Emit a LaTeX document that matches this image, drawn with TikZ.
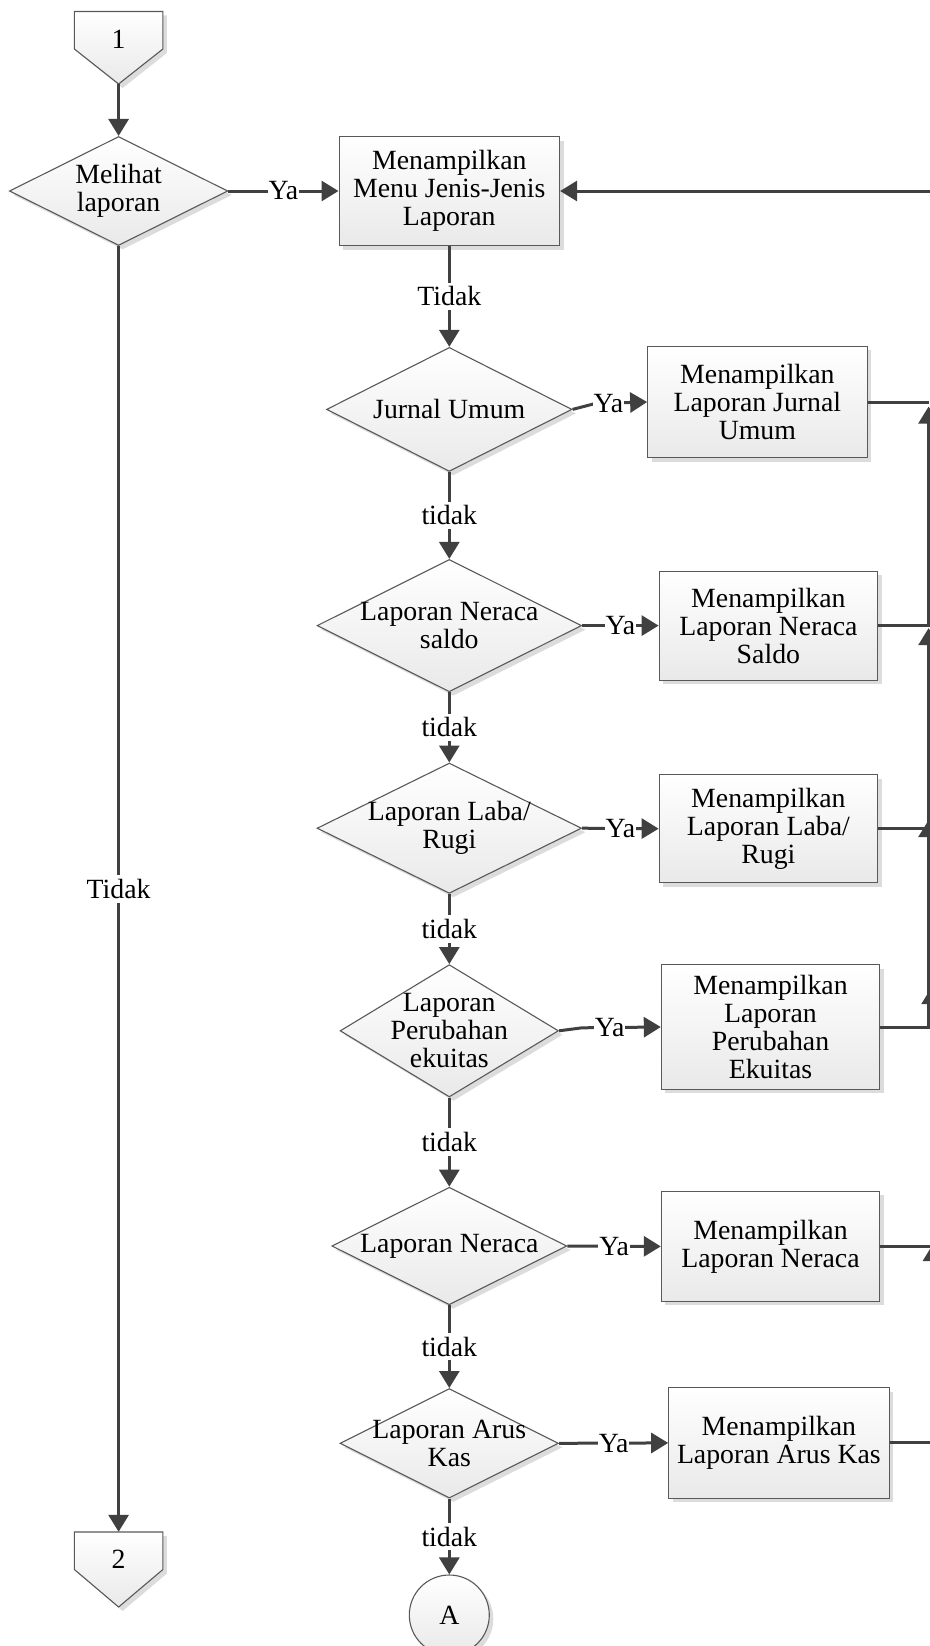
\documentclass[tikz,border=0pt]{standalone}
\usepackage{fontspec}
\setmainfont{Liberation Serif}
\usetikzlibrary{arrows.meta,shapes.geometric,shadows,calc}
\definecolor{lineC}{HTML}{404040}
\definecolor{edgeC}{HTML}{595959}
\definecolor{shadowC}{HTML}{DCDCDC}
\definecolor{fillB}{HTML}{E9E9E9}
\begin{document}
\begin{tikzpicture}[x=1pt,y=-1pt,
  txt/.style={font=\fontsize{27.8}{28}\selectfont},
  shapebase/.style={draw=edgeC, line width=1.1pt, top color=white, bottom color=fillB,
     drop shadow={shadow xshift=4pt, shadow yshift=-4pt, fill=shadowC, opacity=1}},
  procbox/.style={shapebase, rectangle, align=center, inner sep=0pt, txt},
  decision/.style={shapebase, diamond, inner sep=0pt},
  dtext/.style={align=center, txt, inner sep=0pt},
  conn/.style={draw=lineC, line width=3pt},
  arr/.style={conn, -{Triangle[length=17pt,width=20pt]}},
  lbl/.style={fill=white, inner xsep=1pt, inner ysep=4pt, txt},
]
\useasboundingbox (0,0) rectangle (929,1646);
\fill[white] (0,0) rectangle (929,1646);

% off-page connector 1
\fill[shadowC] (78.4,15.5) -- (166.9,15.5) -- (166.9,53) -- (122.6,88) -- (78.4,53) -- cycle;
\path[draw=edgeC, line width=1.1pt, top color=white, bottom color=fillB]
  (74.4,11.5) -- (162.9,11.5) -- (162.9,49) -- (118.6,84) -- (74.4,49) -- cycle;
\node[minimum width=88.5pt, minimum height=72.5pt, inner sep=0pt,
  label={[txt,yshift=8.75pt]center:1}] (c1) at (118.6,47.75) {};

% off-page connector 2
\fill[shadowC] (78.4,1536) -- (166.9,1536) -- (166.9,1573.5) -- (122.6,1611) -- (78.4,1573.5) -- cycle;
\path[draw=edgeC, line width=1.1pt, top color=white, bottom color=fillB]
  (74.4,1532) -- (162.9,1532) -- (162.9,1569.5) -- (118.6,1607) -- (74.4,1569.5) -- cycle;
\node[minimum width=88.5pt, minimum height=75pt, inner sep=0pt,
  label={[txt,yshift=10pt]center:2}] (c2) at (118.6,1569.5) {};

% decisions
\node[decision, minimum width=218.4pt, minimum height=109pt,
  label={[dtext]center:{Melihat\\laporan}}] (d0) at (118.6,191) {};
\node[decision, minimum width=245.5pt, minimum height=124pt,
  label={[dtext]center:{Jurnal Umum}}] (jd) at (449.3,409.4) {};
\node[decision, minimum width=264.5pt, minimum height=132.3pt,
  label={[dtext]center:{Laporan Neraca\\saldo}}] (sd) at (449.3,625.6) {};
\node[decision, minimum width=264.5pt, minimum height=130.3pt,
  label={[dtext]center:{Laporan Laba/\\Rugi}}] (ld) at (449.3,828.2) {};
\node[decision, minimum width=218.4pt, minimum height=132.3pt,
  label={[dtext]center:{Laporan\\Perubahan\\ekuitas}}] (pd) at (449.3,1030.8) {};
\node[decision, minimum width=235pt, minimum height=117.5pt,
  label={[dtext]center:{Laporan Neraca}}] (nd) at (449.3,1246) {};
\node[decision, minimum width=218.4pt, minimum height=109.5pt,
  label={[dtext]center:{Laporan Arus\\Kas}}] (ad) at (449.3,1443.3) {};

% process boxes
\node[procbox, minimum width=220.5pt, minimum height=109pt] (m) at (449.3,191)
  {Menampilkan\\Menu Jenis-Jenis\\Laporan};
\node[procbox, minimum width=219.4pt, minimum height=111.3pt] (jb) at (757.4,402)
  {Menampilkan\\Laporan Jurnal\\Umum};
\node[procbox, minimum width=218.5pt, minimum height=109pt] (sb) at (768.4,625.6)
  {Menampilkan\\Laporan Neraca\\Saldo};
\node[procbox, minimum width=218.5pt, minimum height=108pt] (lb) at (768.4,828.7)
  {Menampilkan\\Laporan Laba/\\Rugi};
\node[procbox, minimum width=218.3pt, minimum height=124.7pt] (pb) at (770.5,1027)
  {Menampilkan\\Laporan\\Perubahan\\Ekuitas};
\node[procbox, minimum width=218.3pt, minimum height=110pt] (nb) at (770.5,1246.4)
  {Menampilkan\\Laporan Neraca};
\node[procbox, minimum width=220.3pt, minimum height=110.3pt] (ab) at (778.9,1442.9)
  {Menampilkan\\Laporan Arus Kas};

% terminator circle
\node[shapebase, circle, minimum size=80pt, inner sep=0pt, txt] (A) at (449.3,1615) {A};

% free ends at the right border
\coordinate (xr) at (928.6,0);
\coordinate (rtop) at (940,191);
\coordinate (nt) at (931.7,987);
\coordinate (at) at (933,1244);

% connectors
\draw[arr] (c1.south) -- (d0.north);
\draw[arr] (d0.south) -- node[lbl]{Tidak} (c2.north);
\draw[arr] (d0.east) -- node[lbl]{Ya} (m.west);
\draw[arr] (m.south) -- node[lbl]{Tidak} (jd.north);

\draw[arr] (jd.east) -- ++(23,-6) -- node[lbl,pos=0.25]{Ya} (jb.west);
\draw[arr] (jd.south) -- node[lbl]{tidak} (sd.north);
\draw[arr] (sd.east) -- node[lbl]{Ya} (sb.west);
\draw[arr] (sd.south) -- node[lbl]{tidak} (ld.north);
\draw[arr] (ld.east) -- node[lbl]{Ya} (lb.west);
\draw[arr] (ld.south) -- node[lbl]{tidak} (pd.north);
\draw[arr] (pd.east) -- ++(23,-3) -- node[lbl,pos=0.35]{Ya} (pb.west);
\draw[arr] (pd.south) -- node[lbl]{tidak} (nd.north);
\draw[arr] (nd.east) -- node[lbl]{Ya} (nb.west);
\draw[arr] (nd.south) -- node[lbl]{tidak} (ad.north);
\draw[arr] (ad.east) -- node[lbl]{Ya} (ab.west);
\draw[arr] (ad.south) -- node[lbl]{tidak} (A.north);

% return lines on the right
\draw[arr] (rtop) -- (m.east);
\draw[conn] (jb.east) -- (jb.east -| xr);
\draw[arr] (sb.east) -| ($(jb.east -| xr)+(0,4.5)$);
\draw[arr] (lb.east) -| ($(sb.east -| xr)+(0,2.5)$);
\draw[arr] (pb.east) -| ($(lb.east -| xr)+(0,-8.7)$);
\draw[arr] (nb.east) -| (nt);
\draw[arr] (ab.east) -| (at);
\end{tikzpicture}
\end{document}
